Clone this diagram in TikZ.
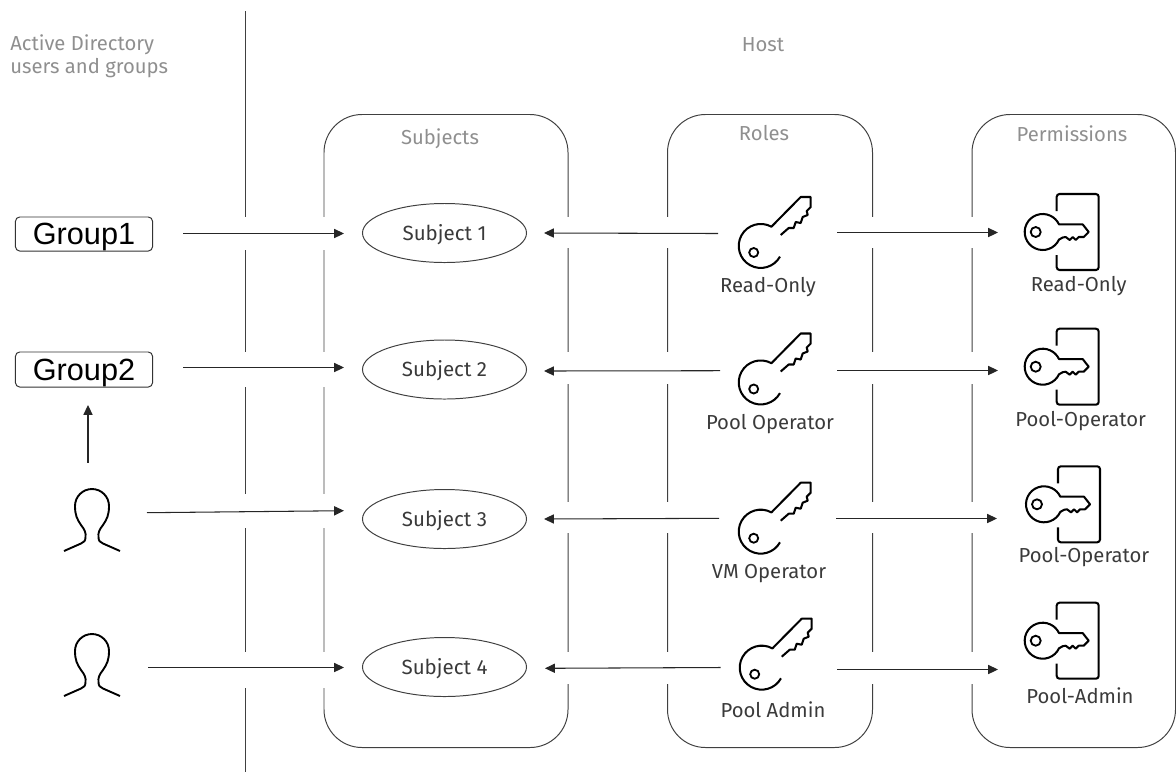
\documentclass[tikz,border=0pt]{standalone}
\usepackage{fontspec}
\setmainfont{Fira Sans}
\newfontfamily\groupfont{Liberation Sans}
\usetikzlibrary{arrows.meta,shapes.geometric}
\definecolor{capgray}{HTML}{8F8F8F}
\definecolor{labgray}{HTML}{3A3A3A}
\newlength{\pxu}
\setlength{\pxu}{.7113pt}
\tikzset{
  conn/.style={-{Triangle[length=7pt,width=6.5pt]},line width=.75pt,black!85},
  frameline/.style={line width=.7pt,black!75},
  caption/.style={text=capgray,font=\fontsize{14.4}{16}\selectfont,inner sep=0pt,yshift=-1pt},
  lab/.style={text=labgray,font=\fontsize{14.4}{16}\selectfont,inner sep=0pt,yshift=-1.2pt},
  subj/.style={draw=black!75,line width=.7pt,ellipse,minimum width=164\pxu,minimum height=59\pxu,inner sep=0pt,text=labgray,text height=10pt,text depth=0pt,font=\fontsize{14.6}{16}\selectfont},
  grp/.style={draw=black!80,line width=.7pt,rounded corners=3pt,minimum width=137\pxu,minimum height=34\pxu,inner sep=0pt,text height=15.4pt,text depth=0pt,font=\groupfont\fontsize{21.8}{24}\selectfont},
  keyicon/.pic={
    \draw[line width=1.45pt,line join=round] (20,-11) -- (28,-18) -- (33,-18) -- (35,-24) -- (40,-23) -- (42,-29) -- (47,-31) -- (46,-35) -- (50,-39) -- (50,-49) -- (40,-49) -- (10.7,-19.3) arc[start angle=-61,end angle=-331,radius=22];
    \draw[line width=1.3pt] (-7,6.5) circle (4.5);
  },
  doorkey/.pic={
    \draw[line width=1.45pt,line join=round] (16.3,7.6) arc[start angle=25,end angle=335,radius=18] -- (40,-7.6) -- (46,0) -- (41,5) -- (36,5) -- (33,8) -- (30,5) -- (27,8) -- (23,5) -- (20,5.5) -- cycle;
    \draw[line width=1.3pt] (-7,0) circle (5);
    \draw[line width=1.45pt,rounded corners=2pt] (14,-21) -- (14,-38) -- (56,-38) -- (56,38) -- (14,38) -- (14,23);
  },
  usericon/.pic={
    \draw[line width=1.35pt,line join=round] (-28,62) -- (-11,54.5) .. controls (-8,53) and (-6.5,52) .. (-6.5,48) .. controls (-6,44) and (-7,41) .. (-11,36) .. controls (-15,30) and (-17,26) .. (-17,17) .. controls (-17,7.6) and (-9.4,0) .. (0,0) .. controls (9.4,0) and (17,7.6) .. (17,17) .. controls (17,26) and (15,30) .. (11,36) .. controls (7,41) and (6,44) .. (6.5,48) .. controls (6.5,52) and (8,53) .. (11,54.5) -- (28,62);
  }
}
\begin{document}
\begin{tikzpicture}[x=.025cm,y=-.025cm]
\useasboundingbox (0,0) rectangle (1176,772);

%Separator and frames
\draw[frameline] (245,11) -- (245,772);
\draw[frameline,rounded corners=27pt] (324,114.5) rectangle (568,747.5);
\draw[frameline,rounded corners=27pt] (667.5,114.5) rectangle (872.5,747.5);
\draw[frameline,rounded corners=27pt] (972,114.5) rectangle (1175.5,747.5);

\foreach \x in {245,324}
  \foreach \a/\b in {217/250,352/387,494/528,652/688}
    \fill[white] (\x-3,\a) rectangle (\x+3,\b);
\foreach \x in {568,667.5,872.5,972}
  \foreach \a/\b in {217/248,352/384,502/533,652/684}
    \fill[white] (\x-3,\a) rectangle (\x+3,\b);

%Captions
\node[caption,anchor=west] (ad1) at (10,43.5) {Active Directory};
\node[caption,anchor=west] (ad2) at (10,66.5) {users and groups};
\node[caption] (host) at (763,43) {Host};
\node[caption] (subjects) at (440,137) {Subjects};
\node[caption] (roles) at (764,132) {Roles};
\node[caption] (perms) at (1072,132) {Permissions};

%Left column
\node[grp] (g1) at (84,234) {Group1};
\node[grp,minimum height=35\pxu] (g2) at (84,369.5) {Group2};
\pic (u1) at (92,489) {usericon};
\pic (u2) at (92,634) {usericon};

%Subjects
\node[subj] (s1) at (444.5,233) {Subject 1};
\node[subj] (s2) at (444.5,369.5) {Subject 2};
\node[subj] (s3) at (444.5,519) {Subject 3};
\node[subj] (s4) at (444.5,667) {Subject 4};

%Roles
\pic (k1) at (760.7,246) {keyicon};
\pic (k2) at (760.7,382.5) {keyicon};
\pic (k3) at (760.7,531.7) {keyicon};
\pic (k4) at (761.7,667.7) {keyicon};
\node[lab] (r1) at (768,285) {Read-Only};
\node[lab] (r2) at (770,422.5) {Pool Operator};
\node[lab] (r3) at (769,572) {VM Operator};
\node[lab] (r4) at (773,708) {Pool Admin};

%Permissions
\pic (d1) at (1042.7,232) {doorkey};
\pic (d2) at (1042.7,366.7) {doorkey};
\pic (d3) at (1044,504.3) {doorkey};
\pic (d4) at (1042.7,640.7) {doorkey};
\node[lab] (p1) at (1078.7,284) {Read-Only};
\node[lab] (p2) at (1080.7,419) {Pool-Operator};
\node[lab] (p3) at (1084,555) {Pool-Operator};
\node[lab] (p4) at (1080,694) {Pool-Admin};

%Connector ends
\coordinate (g1a) at (183,233.5);
\coordinate (s1a) at (344,233.5);
\coordinate (g2a) at (183,367.5);
\coordinate (s2a) at (344,367.5);
\coordinate (u1a) at (147,512.7);
\coordinate (s3a) at (344,510.7);
\coordinate (u2a) at (148,667.5);
\coordinate (s4a) at (344,667.5);
\coordinate (u1b) at (88,462.5);
\coordinate (g2b) at (88,405);
\coordinate (k1a) at (718,233.5);
\coordinate (s1b) at (544,233);
\coordinate (k2a) at (720,370.7);
\coordinate (s2b) at (544,371);
\coordinate (k3a) at (719,518.3);
\coordinate (s3b) at (544,519);
\coordinate (k4a) at (720.7,667.5);
\coordinate (s4b) at (545,668.3);
\coordinate (k1b) at (837,232.5);
\coordinate (d1a) at (998,232.5);
\coordinate (k2b) at (837,370.5);
\coordinate (d2a) at (998,370.5);
\coordinate (k3b) at (836,518.5);
\coordinate (d3a) at (997,518.5);
\coordinate (k4b) at (837,669.5);
\coordinate (d4a) at (998,669.5);

\draw[conn] (g1a) -- (s1a);
\draw[conn] (g2a) -- (s2a);
\draw[conn] (u1a) -- (s3a);
\draw[conn] (u2a) -- (s4a);
\draw[conn] (u1b) -- (g2b);
\draw[conn] (k1a) -- (s1b);
\draw[conn] (k2a) -- (s2b);
\draw[conn] (k3a) -- (s3b);
\draw[conn] (k4a) -- (s4b);
\draw[conn] (k1b) -- (d1a);
\draw[conn] (k2b) -- (d2a);
\draw[conn] (k3b) -- (d3a);
\draw[conn] (k4b) -- (d4a);

\end{tikzpicture}
\end{document}
